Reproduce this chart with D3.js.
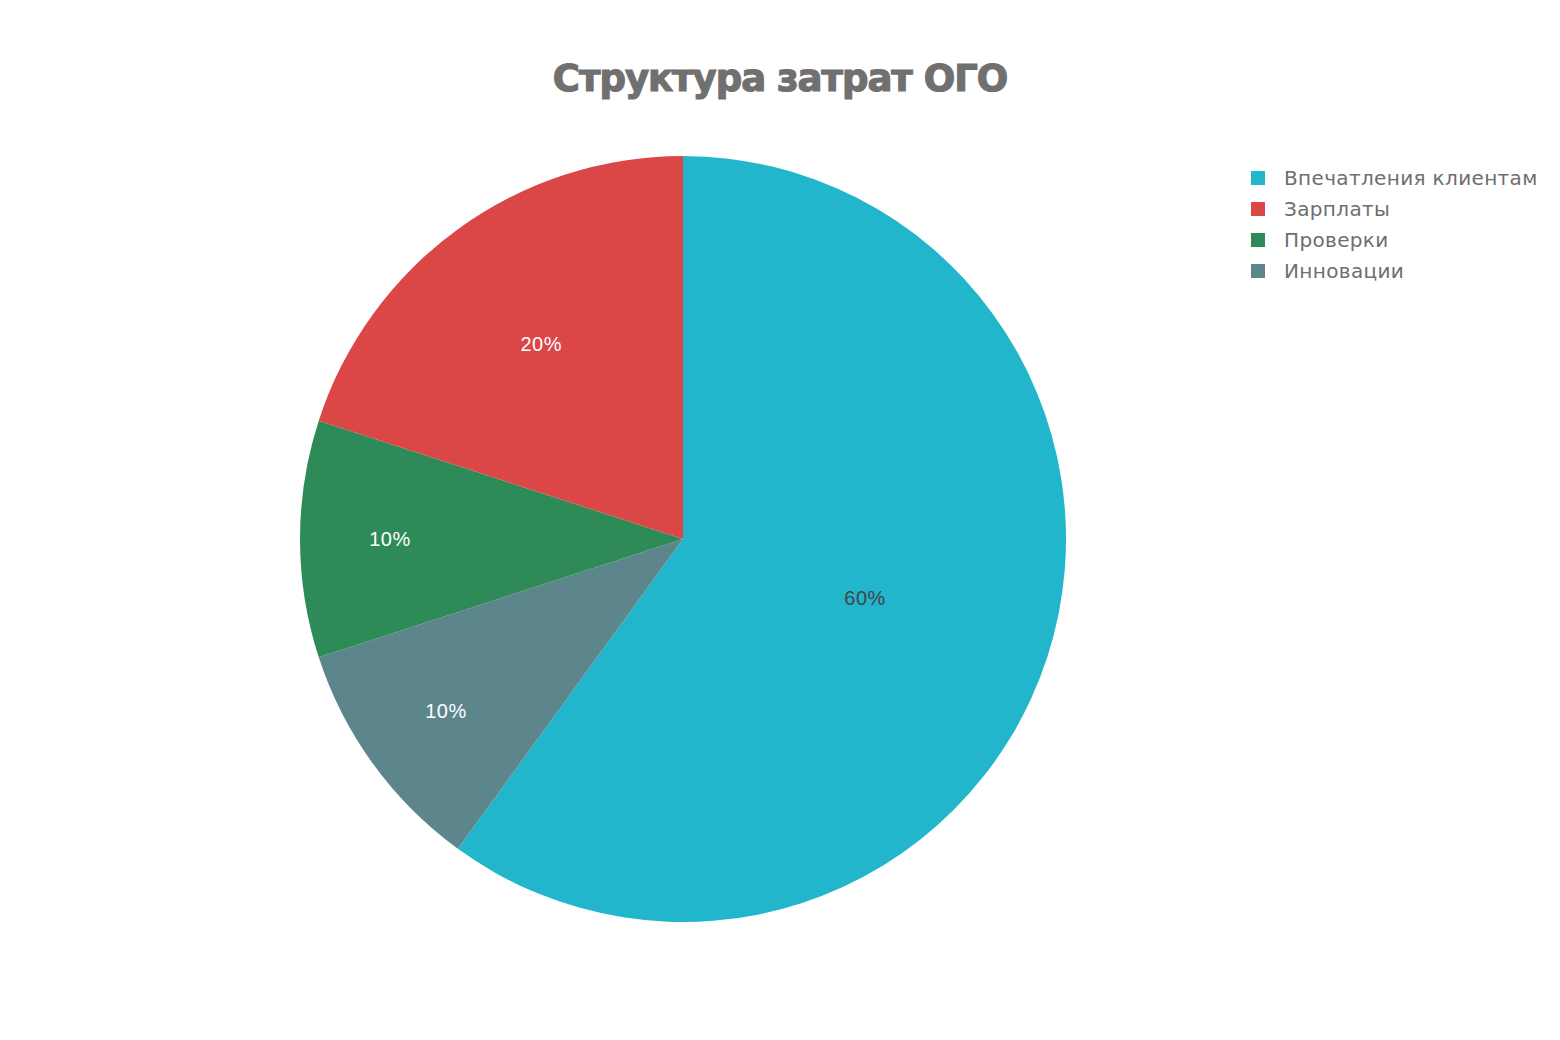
<!DOCTYPE html>
<html><head><meta charset="utf-8">
<script src="https://cdn.jsdelivr.net/npm/d3@7"></script>
<style>body{margin:0;background:#fff}svg{display:block}</style>
</head><body>
<svg id="c" width="1560" height="1040"></svg>
<script>
const title = "Структура затрат ОГО";
const categories = ["Впечатления клиентам", "Зарплаты", "Проверки", "Инновации"];
const values = [60, 20, 10, 10];
const colors = ["#21b6cc", "#db4647", "#2e8b57", "#5d868c"];
// drawing order clockwise from 12 o'clock
const drawOrder = ["Впечатления клиентам", "Инновации", "Проверки", "Зарплаты"];

const svg = d3.select("#c");
const cx = 683, cy = 539, R = 383;

svg.append("text").attr("x", 780).attr("y", 91).attr("text-anchor", "middle")
  .attr("font-family", "DejaVu Sans").attr("font-weight", "bold")
  .attr("font-size", 37).attr("fill", "#707070").attr("letter-spacing", -1)
  .attr("stroke", "#707070").attr("stroke-width", 1.2).text(title);

const data = drawOrder.map(n => { const i = categories.indexOf(n); return {name: n, value: values[i], color: colors[i]}; });
const total = d3.sum(values);
const pie = d3.pie().sort(null).value(d => d.value);
const arcs = pie(data);
const arc = d3.arc().innerRadius(0).outerRadius(R);
const g = svg.append("g").attr("transform", `translate(${cx},${cy})`);
g.selectAll("path").data(arcs).join("path").attr("d", arc).attr("fill", d => d.data.color);

g.selectAll("text.lbl").data(arcs).join("text").attr("class", "lbl")
  .attr("transform", d => {
    const span = d.endAngle - d.startAngle;
    const f = span >= Math.PI ? 0.5 : span > 0.3 * Math.PI ? 0.63 : 0.765;
    const a = (d.startAngle + d.endAngle) / 2;
    return `translate(${Math.sin(a) * R * f},${-Math.cos(a) * R * f})`;
  })
  .attr("text-anchor", "middle").attr("dy", "0.35em")
  .attr("font-family", "Liberation Sans, Arial").attr("font-size", 20).attr("letter-spacing", 0.5)
  .attr("fill", d => d.data.color === "#21b6cc" ? "#444" : "#fff")
  .text(d => Math.round(d.data.value / total * 100) + "%");

const lg = svg.append("g").attr("transform", "translate(1251,178)");
const rows = lg.selectAll("g").data(categories).join("g").attr("transform", (d, i) => `translate(0,${i * 31})`);
rows.append("rect").attr("x", 0).attr("y", -7).attr("width", 14).attr("height", 14).attr("fill", (d, i) => colors[i]);
rows.append("text").attr("x", 33).attr("dy", "0.35em").attr("font-family", "DejaVu Sans")
  .attr("font-size", 20).attr("letter-spacing", 0.35).attr("fill", "#6e6e6e").text(d => d);
</script>
</body></html>
